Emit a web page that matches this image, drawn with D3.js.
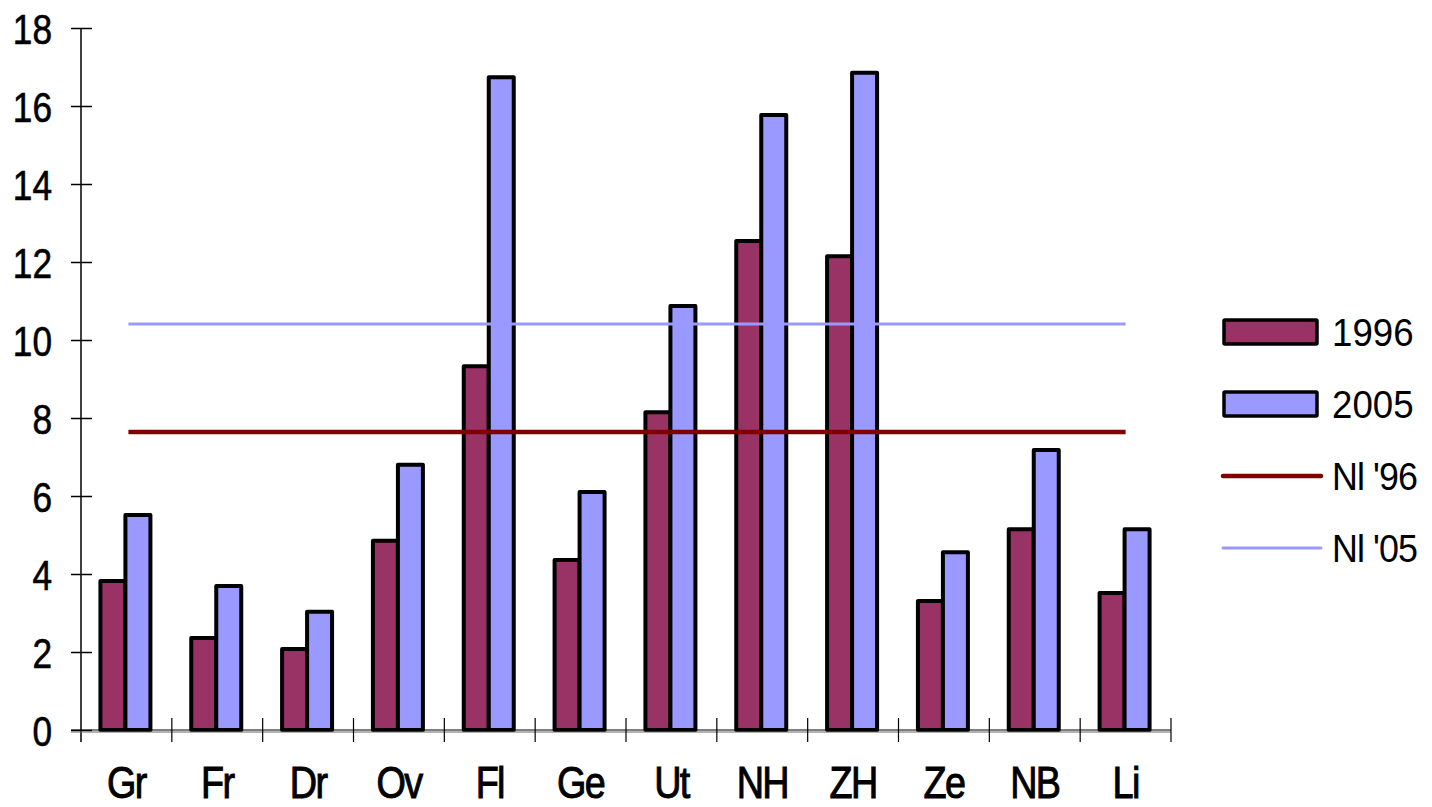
<!DOCTYPE html>
<html><head><meta charset="utf-8">
<script src="https://cdn.jsdelivr.net/npm/d3@7"></script>
<style>body{margin:0;background:#fff}svg{display:block}text{font-family:"Liberation Sans",Arial,sans-serif}</style>
</head><body><svg id="c" width="1432" height="807"></svg>
<script>
const categories = ["Gr","Fr","Dr","Ov","Fl","Ge","Ut","NH","ZH","Ze","NB","Li"];
const v1996 = [3.82,2.36,2.08,4.85,9.33,4.36,8.15,12.54,12.15,3.31,5.15,3.51];
const v2005 = [5.51,3.69,3.03,6.8,16.74,6.1,10.87,15.77,16.85,4.56,7.18,5.15];
const nl96 = 7.64;
const nl05 = 10.41;
const yTicks = [0,2,4,6,8,10,12,14,16,18];
const seriesNames = ["1996","2005"];
const lineNames = ["Nl '96","Nl '05"];

const svg = d3.select("#c");
const x0 = 81, x1 = 1171, yBase = 730, yTop = 28;
const x = d3.scaleBand().domain(categories).range([x0, x1]);
const y = d3.scaleLinear().domain([0,18]).range([yBase, yTop]);
const xs = d3.scaleBand().domain(seriesNames).range([0, 50]);
const colors = {"1996":"#993366","2005":"#9999ff"};

// bars
const g = svg.append("g");
categories.forEach((c,i)=>{
  const off = x(c) + (x.bandwidth()-50)/2 - 1;
  [[ "1996", v1996[i]], ["2005", v2005[i]]].forEach(([s,v])=>{
    g.append("rect")
      .attr("x", off + xs(s)).attr("y", y(v))
      .attr("width", xs.bandwidth()).attr("height", y(0)-y(v))
      .attr("fill", colors[s]).attr("stroke","#000").attr("stroke-width",4)
      .attr("stroke-linejoin","round");
  });
});

// reference lines
const cFirst = x(categories[0]) + x.bandwidth()/2 + 2;
const cLast = x(categories[categories.length-1]) + x.bandwidth()/2;
svg.append("line").attr("x1",cFirst).attr("x2",cLast).attr("y1",y(nl05)).attr("y2",y(nl05))
  .attr("stroke","#9999ff").attr("stroke-width",3);
svg.append("line").attr("x1",cFirst).attr("x2",cLast).attr("y1",y(nl96)).attr("y2",y(nl96))
  .attr("stroke","#800000").attr("stroke-width",4.5);

// y axis
const ya = svg.append("g").attr("transform",`translate(${x0},0)`)
  .call(d3.axisLeft(y).tickValues(yTicks).tickSize(0).tickPadding(0));
ya.select(".domain").attr("stroke","#000").attr("stroke-width",1.5).attr("d",`M0,${yTop}V${yBase+12}`);
ya.selectAll(".tick line").attr("x1",-10).attr("x2",11).attr("stroke","#000").attr("stroke-width",1.5);
ya.selectAll(".tick text").attr("font-size",42).attr("fill","#000").attr("x",0).attr("dy","0.36em")
  .attr("transform","translate(-29,0) scale(0.84,1)")
  .attr("stroke","#000").attr("stroke-width",0.6)
  .style("font-family","'Liberation Sans',Arial,sans-serif");

// x axis
svg.append("line").attr("x1",x0-10).attr("x2",x1).attr("y1",yBase).attr("y2",yBase)
  .attr("stroke","#000").attr("stroke-width",1.2);
svg.append("line").attr("x1",x0-10).attr("x2",x1).attr("y1",yBase+2).attr("y2",yBase+2)
  .attr("stroke","#666").attr("stroke-width",1);
categories.slice(1).concat(["_end"]).forEach((c,i)=>{
  const xx = c==="_end" ? x1 : x(c);
  svg.append("line").attr("x1",xx).attr("x2",xx).attr("y1",yBase-12).attr("y2",yBase+12)
    .attr("stroke","#000").attr("stroke-width",1.2);
});
const xa = svg.append("g").attr("transform",`translate(0,${yBase})`)
  .call(d3.axisBottom(x).tickSize(0).tickPadding(0));
xa.select(".domain").remove();
xa.selectAll(".tick text").attr("font-size",45).attr("fill","#000").attr("y",0).attr("dy",null)
  .attr("transform","translate(0,68) scale(0.84,1)")
  .attr("letter-spacing","-2px").attr("stroke","#000").attr("stroke-width",1)
  .style("font-family","'Liberation Sans',Arial,sans-serif");

// legend
const lg = svg.append("g");
seriesNames.forEach((s,i)=>{
  const cy = 332 + i*72;
  lg.append("rect").attr("x",1224).attr("y",cy-12).attr("width",93).attr("height",24)
    .attr("fill",colors[s]).attr("stroke","#000").attr("stroke-width",3.5).attr("rx",1);
  lg.append("text").attr("x",0).attr("y",0).attr("dy","0.36em").attr("font-size",39)
    .attr("transform",`translate(1332,${cy}) scale(0.94,1)`).text(s);
});
[["#800000",4.5],["#9999ff",3]].forEach(([col,w],i)=>{
  const cy = 476 + i*72;
  lg.append("line").attr("x1",1223).attr("x2",1321).attr("y1",cy).attr("y2",cy)
    .attr("stroke",col).attr("stroke-width",w).attr("stroke-linecap","round");
  lg.append("text").attr("x",0).attr("y",0).attr("dy","0.36em").attr("font-size",39)
    .attr("transform",`translate(1332,${cy}) scale(0.92,1)`)
    .attr("letter-spacing","-1px").text(lineNames[i]);
});
</script></body></html>
